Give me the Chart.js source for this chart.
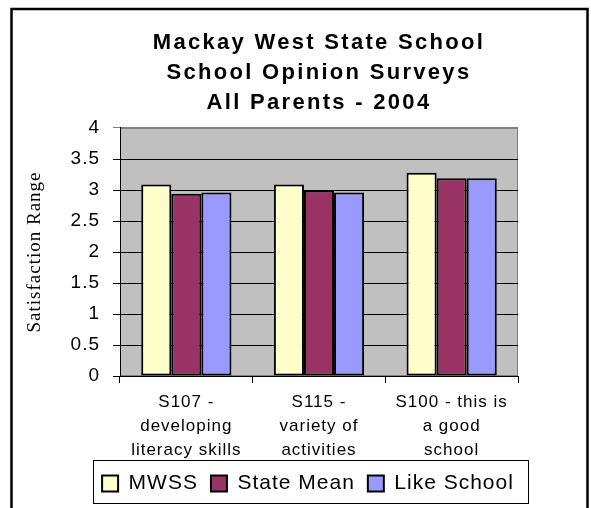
<!DOCTYPE html>
<html>
<head>
<meta charset="utf-8">
<script src="https://cdn.jsdelivr.net/npm/chart.js@4.4.1/dist/chart.umd.min.js"></script>
<style>
  body { margin: 0; background: #fff; }
  canvas { display: block; }
</style>
</head>
<body>
<canvas id="chart" width="591" height="508"></canvas>
<script>
const titleLines = ["Mackay West State School", "School Opinion Surveys", "All Parents - 2004"];
const categories = [
  ["S107 -", "developing", "literacy skills"],
  ["S115 -", "variety of", "activities"],
  ["S100 - this is", "a good", "school"]
];
const mwss = [3.09, 3.09, 3.28];
const stateMean = [2.94, 2.99, 3.19];
const likeSchool = [2.96, 2.96, 3.19];
const yTitle = "Satisfaction Range";

const sans = '"Liberation Sans", Arial, sans-serif';
const serif = '"Liberation Serif", "Times New Roman", serif';

// Excel-like spaced text, plot background, frames
const decor = {
  id: "decor",
  beforeLayout(chart) {
    chart.ctx.letterSpacing = "1px";
  },
  afterLayout(chart) {
    // legend sits a bit right of the full-width centre
    const lg = chart.legend;
    lg.left += 49;
    lg.right += 49;
    const t = chart.titleBlock;
    if (t && !t._spaced) {
      const draw = t.draw;
      t.draw = function () {
        const c = chart.ctx;
        c.save();
        c.letterSpacing = "2.3px";
        draw.apply(this, arguments);
        c.restore();
      };
      t._spaced = true;
    }
  },
  beforeDraw(chart) {
    const { ctx, chartArea: a } = chart;
    ctx.letterSpacing = "1px";
    ctx.save();
    ctx.fillStyle = "#c0c0c0";
    ctx.fillRect(a.left, a.top, a.right - a.left, a.bottom - a.top);
    ctx.strokeStyle = "#808080";
    ctx.lineWidth = 1;
    ctx.strokeRect(a.left + 0.5, a.top + 0.5, a.right - a.left - 1, a.bottom - a.top - 1);
    ctx.restore();
  },
  afterDraw(chart) {
    const ctx = chart.ctx;
    const lg = chart.legend;
    const hb = lg.legendHitBoxes;
    ctx.save();
    ctx.strokeStyle = "#000";
    ctx.lineWidth = 1;
    if (hb && hb.length) {
      const last = hb[hb.length - 1];
      const x0 = Math.round(hb[0].left - 9) + 0.5;
      const x1 = Math.round(last.left + last.width + 14) + 0.5;
      ctx.strokeRect(x0, Math.round(lg.top) + 0.5, x1 - x0, Math.round(lg.bottom - lg.top) - 1);
    }
    ctx.lineWidth = 2.5;
    ctx.strokeRect(11.5, 9, 576, 520);
    ctx.restore();
  }
};

new Chart(document.getElementById("chart"), {
  type: "bar",
  data: {
    labels: categories,
    datasets: [
      { label: "MWSS", data: mwss, backgroundColor: "#ffffcc" },
      { label: "State Mean", data: stateMean, backgroundColor: "#993366" },
      { label: "Like School", data: likeSchool, backgroundColor: "#9999ff" }
    ]
  },
  options: {
    responsive: false,
    animation: false,
    layout: { padding: { left: 0, right: 73, top: 0, bottom: 4 } },
    datasets: {
      bar: {
        borderColor: "#000",
        borderWidth: 2,
        borderSkipped: false,
        categoryPercentage: 0.68,
        barPercentage: 1
      }
    },
    scales: {
      x: {
        grid: { display: true, drawOnChartArea: false, color: "#000", tickLength: 7 },
        border: { display: true, color: "#000", width: 1 },
        ticks: {
          color: "#000",
          padding: 7,
          maxRotation: 0,
          font: { family: sans, size: 17, lineHeight: 24 / 17 }
        },
        afterFit(s) { s.height = 84; }
      },
      y: {
        min: 0,
        max: 4,
        ticks: {
          stepSize: 0.5,
          color: "#000",
          padding: 13,
          font: { family: sans, size: 19 },
          callback: (v) => String(v)
        },
        grid: {
          color: (c) => (c.tick && c.tick.value === 4 ? "#808080" : "#000"),
          tickLength: 7,
          lineWidth: 1
        },
        border: { display: true, color: "#000", width: 1 },
        title: {
          display: true,
          text: yTitle,
          color: "#000",
          padding: { top: 24, bottom: 0 },
          font: { family: serif, size: 19 }
        },
        afterFit(s) { s.width = 120; }
      }
    },
    plugins: {
      title: {
        display: true,
        text: titleLines,
        color: "#000",
        fullSize: false,
        padding: { top: 28, bottom: 10 },
        font: { family: sans, size: 22, weight: "bold", lineHeight: 30 / 22 }
      },
      legend: {
        position: "bottom",
        labels: {
          color: "#000",
          boxWidth: 16,
          boxHeight: 16,
          padding: 13,
          font: { family: sans, size: 21, lineHeight: 1.2 }
        }
      },
      tooltip: { enabled: false }
    }
  },
  plugins: [decor]
});
</script>
</body>
</html>
